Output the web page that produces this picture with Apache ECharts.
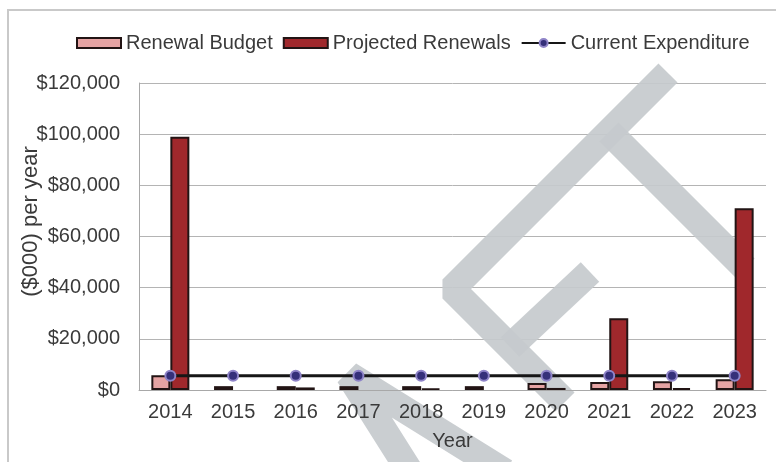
<!DOCTYPE html>
<html>
<head>
<meta charset="utf-8">
<script src="https://cdn.jsdelivr.net/npm/echarts@6/dist/echarts.min.js"></script>
<style>
  html, body { margin: 0; padding: 0; background: #ffffff; }
  #chart { width: 776px; height: 462px; }
</style>
</head>
<body>
<div id="chart"></div>
<script>
// Renewal funding by year, values in $000
const years = ['2014', '2015', '2016', '2017', '2018', '2019', '2020', '2021', '2022', '2023'];
const renewalBudget = [5800, 1500, 1500, 1500, 1500, 1500, 2700, 3100, 3400, 4200];
const projectedRenewals = [99000, 0, 1000, 0, 500, 0, 800, 28000, 700, 71000];
const currentExpenditure = [5600, 5600, 5600, 5600, 5600, 5600, 5600, 5600, 5600, 5600];

// value axis ticks
const yMin = 0;
const yMax = 120000;
const yStep = 20000;

const FONT = "'Liberation Sans', Arial, sans-serif";
const TEXT = '#3a3a3a';
const BAR_EDGE = '#221414';
const WM = '#c6cacd';

// a zero means no bar for that year
const barValues = arr => arr.map(v => (v === 0 ? '-' : v));
const money = v => '$' + v.toLocaleString('en-US');

const chart = echarts.init(document.getElementById('chart'), null, { renderer: 'canvas' });

// grey "DRAFT" watermark strokes, drawn between the grid lines and the series
const wmStroke = pts => ({
  type: 'polyline',
  z: 1,
  silent: true,
  shape: { points: pts },
  style: { stroke: WM, lineWidth: 27, lineCap: 'butt', lineJoin: 'bevel', fill: null, opacity: 0.92 }
});

chart.setOption({
  animation: false,
  backgroundColor: '#ffffff',
  textStyle: { fontFamily: FONT },
  graphic: [
    {
      type: 'rect',
      z: 0,
      silent: true,
      shape: { x: 8, y: 10, width: 900, height: 600 },
      style: { fill: null, stroke: '#c9c9c9', lineWidth: 2 }
    },
    wmStroke([[445, 527], [349, 375], [505, 472]]),
    wmStroke([[565, 402], [452, 289], [668, 73]]),
    wmStroke([[609, 132], [745, 268]]),
    wmStroke([[510, 347], [590, 272]])
  ],
  legend: {
    top: 33,
    left: 76,
    padding: 0,
    itemGap: 10,
    itemWidth: 44,
    itemHeight: 10,
    textStyle: { fontSize: 20, color: TEXT, fontFamily: FONT },
    data: [
      { name: 'Renewal Budget', icon: 'rect' },
      { name: 'Projected Renewals', icon: 'rect' },
      { name: 'Current Expenditure' }
    ]
  },
  grid: { left: 139, right: 10, top: 83, bottom: 72, containLabel: false },
  xAxis: {
    type: 'category',
    data: years,
    z: 3,
    axisTick: { show: false },
    axisLine: { lineStyle: { color: '#a8a8a8', width: 1 } },
    axisLabel: { fontSize: 20, color: TEXT, margin: 12, fontFamily: FONT },
    name: 'Year',
    nameLocation: 'middle',
    nameGap: 41,
    nameMoveOverlap: false,
    nameTextStyle: { fontSize: 20, color: TEXT, fontFamily: FONT }
  },
  yAxis: {
    type: 'value',
    min: yMin,
    max: yMax,
    interval: yStep,
    axisLine: { show: true, lineStyle: { color: '#a8a8a8', width: 1 } },
    axisTick: { show: false },
    splitLine: { lineStyle: { color: '#b4b4b4', width: 1 } },
    axisLabel: { fontSize: 20, color: TEXT, margin: 19, fontFamily: FONT, formatter: money },
    name: '($000) per year',
    nameLocation: 'middle',
    nameRotate: 90,
    nameGap: 97,
    nameMoveOverlap: false,
    nameTextStyle: { fontSize: 22, color: TEXT, fontFamily: FONT, padding: [0, 0, 0, 30] }
  },
  series: [
    {
      name: 'Renewal Budget',
      type: 'bar',
      z: 2,
      barWidth: 19,
      barGap: '0%',
      data: barValues(renewalBudget),
      itemStyle: { color: '#e6a3a3', borderColor: BAR_EDGE, borderWidth: 2 }
    },
    {
      name: 'Projected Renewals',
      type: 'bar',
      z: 2,
      barWidth: 19,
      barGap: '0%',
      data: barValues(projectedRenewals),
      itemStyle: { color: '#a0282c', borderColor: BAR_EDGE, borderWidth: 2 }
    },
    {
      name: 'Current Expenditure',
      type: 'line',
      z: 4,
      data: currentExpenditure,
      symbol: 'circle',
      symbolSize: 10,
      lineStyle: { color: '#161616', width: 3 },
      itemStyle: { color: '#35307a', borderColor: '#8f84c8', borderWidth: 2 }
    }
  ]
});
</script>
</body>
</html>
